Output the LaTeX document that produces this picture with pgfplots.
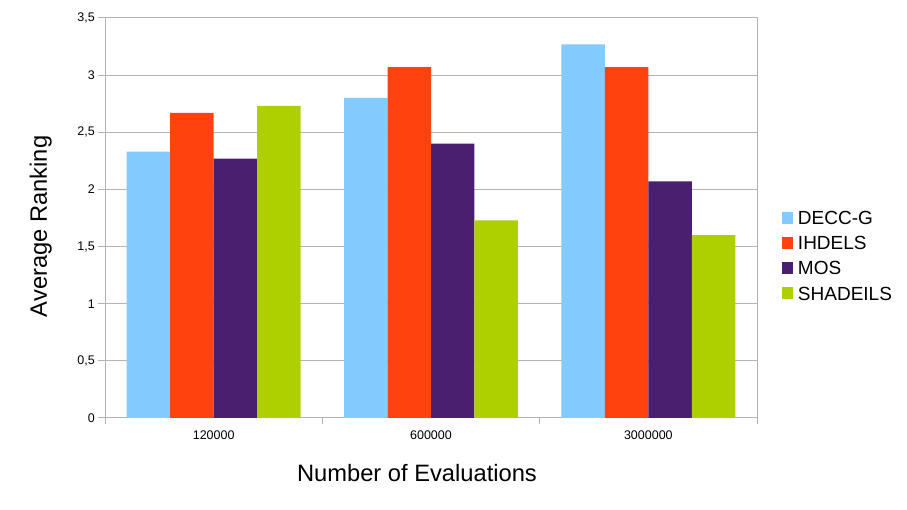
\documentclass[border=0pt]{standalone}
\usepackage{pgfplots}
\pgfplotsset{compat=1.18}
\usepackage{fontspec}
\setmainfont{Liberation Sans}
\definecolor{cdecc}{HTML}{83CAFF}
\definecolor{cihdels}{HTML}{FF420E}
\definecolor{cmos}{HTML}{4B1F6F}
\definecolor{cshade}{HTML}{AECF00}
\definecolor{gridgray}{HTML}{B3B3B3}
\begin{document}
\begin{tikzpicture}
\path[use as bounding box] (0,0) rectangle (907pt,510pt);
\begin{axis}[
  at={(105pt,92pt)}, anchor=south west,
  width=652pt, height=400pt, scale only axis,
  ybar, bar width=0.2,
  xmin=-0.5, xmax=2.5, ymin=0, ymax=3.5,
  xtick={0,1,2}, xticklabels={120000,600000,3000000},
  major x tick style={draw=none},
  minor xtick={-0.5,0.5,1.5,2.5},
  ytick={0,0.5,1,1.5,2,2.5,3,3.5},
  xtick pos=bottom, ytick pos=left,
  tick align=outside, major tick length=7pt, minor tick length=6pt,
  ymajorgrids, grid style={color=gridgray, line width=1pt},
  axis line style={color=gridgray, line width=1pt},
  every tick/.style={color=gridgray, line width=1pt},
  /pgf/number format/assume math mode=true,
  /pgf/number format/use comma,
  ticklabel style={font=\fontsize{12.5}{14}\selectfont, text=black},
  yticklabel style={inner sep=0pt, xshift=-3pt},
  xticklabel style={inner sep=0pt, yshift=-6pt},
  xlabel={Number of Evaluations},
  ylabel={Average Ranking},
  label style={font=\fontsize{23.7}{26}\selectfont},
  xlabel style={at={(axis description cs:0.4785,0)}, anchor=base, yshift=-64pt, inner sep=0pt},
  ylabel style={at={(axis description cs:-0.0813,0.479)}, anchor=south, inner sep=0pt},
  legend style={at={(axis description cs:1.038,0.406)}, anchor=west, draw=none, fill=none,
    inner sep=0pt, row sep=11.5pt, column sep=5pt,
    nodes={inner sep=0pt, text height=13.6pt, text depth=0pt, font=\fontsize{19}{19}\selectfont}},
  legend cell align=left,
  legend image code/.code={\fill[#1] (0pt,-6pt) rectangle (11pt,6pt);},
]
\addplot[fill=cdecc, draw=none, bar shift=-0.3] coordinates {(0,2.33) (1,2.80) (2,3.27)};
\addplot[fill=cihdels, draw=none, bar shift=-0.1] coordinates {(0,2.67) (1,3.07) (2,3.07)};
\addplot[fill=cmos, draw=none, bar shift=0.1] coordinates {(0,2.27) (1,2.40) (2,2.07)};
\addplot[fill=cshade, draw=none, bar shift=0.3] coordinates {(0,2.73) (1,1.73) (2,1.60)};
\legend{DECC-G,IHDELS,MOS,SHADEILS}
\end{axis}
\end{tikzpicture}
\end{document}
